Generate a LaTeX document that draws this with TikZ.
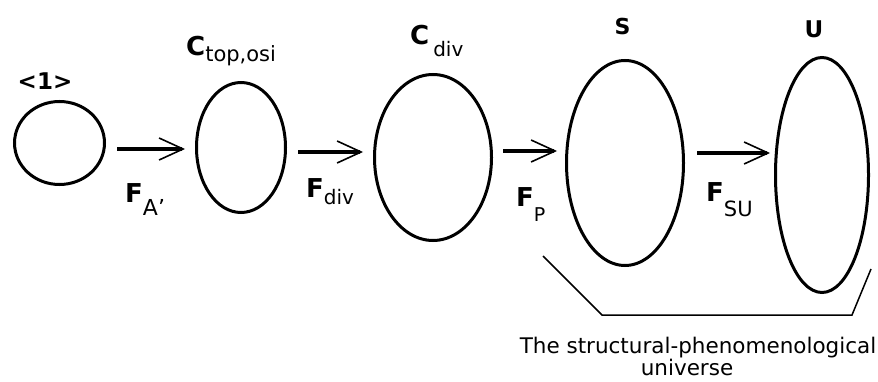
\documentclass[tikz,border=0pt]{standalone}
\usepackage{fontspec}
\setmainfont{DejaVu Sans}
\usetikzlibrary{shapes.geometric,arrows.meta,calc}
\newcommand\Lab[4]{{\fontsize{26}{30}\selectfont\bfseries #1}\raisebox{-#3pt}{\fontsize{#4}{22}\selectfont #2}}
\begin{document}
\begin{tikzpicture}[x=1pt,y=-1pt,
  set/.style={draw,ellipse,line width=3pt,inner sep=0pt},
  arr/.style={line width=3.2pt,-{Straight Barb[length=24pt,width=22pt,line width=1.6pt]}},
  lab/.style={inner sep=0pt,anchor=base west},
  top/.style={inner sep=0pt,font=\fontsize{23}{26}\selectfont\bfseries},
  brace/.style={line width=1.5pt}]
\useasboundingbox (0,0) rectangle (878,382);
\node[set,minimum width=90pt,minimum height=83pt] (e1) at (59.5,143) {};
\node[set,minimum width=89pt,minimum height=130pt] (e2) at (241,147.5) {};
\node[set,minimum width=117pt,minimum height=166pt] (e3) at (433,157.5) {};
\node[set,minimum width=117pt,minimum height=205pt] (e4) at (625,163) {};
\node[set,minimum width=93pt,minimum height=235pt] (e5) at (822,175) {};
\draw[arr] ([xshift=11pt,yshift=-6pt]e1.east) -- ([xshift=-10pt,yshift=-1.5pt]e2.west);
\draw[arr] ([xshift=11pt,yshift=-4.5pt]e2.east) -- ([xshift=-10pt,yshift=5.5pt]e3.west);
\draw[arr] ([xshift=10pt,yshift=6.5pt]e3.east) -- ([xshift=-8pt,yshift=12pt]e4.west);
\draw[arr] ([xshift=12pt,yshift=10pt]e4.east) -- ([xshift=-4pt,yshift=22pt]e5.west);
\node[top] (l1) at (45,81.5) {<1>};
\node[lab] (l2) at (186,56) {\Lab{C}{top,osi}{6}{21}};
\node[lab] (l3) at (410,45) {\Lab{C}{\hspace{4pt}div}{12}{20}};
\node[top,font=\fontsize{22}{26}\selectfont\bfseries] (l4) at (622.5,26.5) {S};
\node[top,font=\fontsize{23}{26}\selectfont\bfseries] (l5) at (814,29.5) {U};
\node[lab] (f1) at (125,203) {\Lab{F}{A'}{13}{22}};
\node[lab] (f2) at (306,198) {\Lab{F}{div}{7}{20}};
\node[lab] (f3) at (516,207) {\Lab{F}{P}{15}{19}};
\node[lab] (f4) at (706,202) {\Lab{F}{SU}{15}{21}};
\coordinate (b1) at (543,256);
\coordinate (b2) at (602,315);
\coordinate (b3) at (852,315);
\coordinate (b4) at (871,269);
\draw[brace] (b1) -- (b2) -- (b3) -- (b4);
\node[inner sep=0pt,anchor=base,align=center,font=\fontsize{21.5}{22}\selectfont] (cap) at (698,375) {The structural-phenomenological\\\hspace*{-22pt}universe};
\end{tikzpicture}
\end{document}
